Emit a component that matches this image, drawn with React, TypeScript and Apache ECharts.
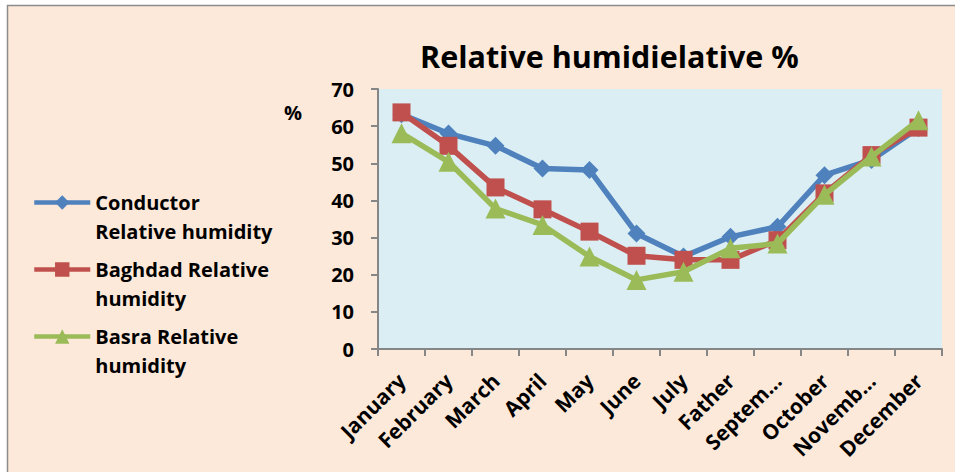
import React, { useEffect, useRef } from "react";
import * as echarts from "echarts";

const categories = ["January", "February", "March", "April", "May", "June", "July", "Father", "Septem...", "October", "Novemb...", "December"];
const conductor = [63.2, 58.0, 54.7, 48.6, 48.2, 31.1, 24.9, 30.2, 32.9, 46.8, 50.9, 59.5];
const baghdad = [63.7, 54.7, 43.5, 37.6, 31.6, 25.1, 24.0, 24.0, 29.3, 41.9, 52.2, 59.6];
const basra = [58.1, 50.4, 37.8, 33.4, 24.9, 18.6, 20.8, 27.1, 28.4, 41.5, 51.8, 61.6];
const seriesNames = ["Conductor Relative humidity", "Baghdad Relative humidity", "Basra Relative humidity"];
const legendLabels = ["Conductor\nRelative humidity", "Baghdad Relative\nhumidity", "Basra Relative\nhumidity"];
const yTicks = { min: 0, max: 70, interval: 10 };
const titleText = "Relative humidielative %";

const FONT = "'Open Sans', sans-serif";

export default function App() {
  const ref = useRef<HTMLDivElement>(null);
  useEffect(() => {
    if (!ref.current) return;
    const chart = echarts.init(ref.current, undefined, { renderer: "svg" });
    const colors = ["#4F81BD", "#C0504D", "#9BBB59"];
    const symbols = ["diamond", "rect", "triangle"];
    const sizes = [18, 18, 20];
    const data = [conductor, baghdad, basra];
    chart.setOption({
      animation: false,
      backgroundColor: "#ffffff",
      textStyle: { fontFamily: FONT },
      graphic: [
        {
          type: "rect",
          z: -100,
          silent: true,
          shape: { x: 7.5, y: 5.5, width: 1000, height: 600 },
          style: { fill: "#FDE9D9", stroke: "#8C8C8C", lineWidth: 1.5 },
        },
        {
          type: "text",
          x: 293,
          y: 112,
          style: { text: "%", fontFamily: FONT, fontSize: 20, fontWeight: "bold", fill: "#000", align: "center", verticalAlign: "middle" },
        },
      ],
      title: {
        text: titleText,
        left: 415,
        top: 35,
        textStyle: { fontFamily: FONT, fontSize: 30.5, fontWeight: "bold", color: "#000" },
      },
      legend: {
        orient: "vertical",
        left: 27,
        top: 154,
        itemGap: -20,
        itemWidth: 56,
        itemHeight: 18,
        lineStyle: { width: 4.5 },
        data: seriesNames.map((n, i) => ({ name: n, lineStyle: { width: 4.5, color: colors[i] } })),
        formatter: (n: string) => "\n" + legendLabels[seriesNames.indexOf(n)],
        textStyle: { fontFamily: FONT, fontSize: 20, fontWeight: "bold", color: "#000", lineHeight: 29 },
      },
      grid: {
        left: 378,
        top: 89,
        right: 13,
        bottom: 123,
        show: true,
        backgroundColor: "#DBEEF4",
        borderWidth: 0,
      },
      xAxis: {
        type: "category",
        data: categories,
        boundaryGap: true,
        axisLine: { lineStyle: { color: "#868686", width: 2 } },
        axisTick: { show: true, length: 7, lineStyle: { color: "#868686", width: 2 } },
        axisLabel: { interval: 0, rotate: 45, margin: 28, fontFamily: FONT, fontSize: 21, fontWeight: "bold", color: "#000" },
        splitLine: { show: false },
      },
      yAxis: {
        type: "value",
        min: yTicks.min,
        max: yTicks.max,
        interval: yTicks.interval,
        axisLine: { show: true, lineStyle: { color: "#868686", width: 2 } },
        axisTick: { show: true, length: 7, lineStyle: { color: "#868686", width: 2 } },
        axisLabel: { margin: 24, fontFamily: FONT, fontSize: 20, fontWeight: "bold", color: "#000" },
        splitLine: { show: false },
      },
      series: data.map((d, i) => ({
        name: seriesNames[i],
        type: "line",
        data: d,
        symbol: symbols[i],
        symbolSize: sizes[i],
        lineStyle: { color: colors[i], width: 5.5 },
        itemStyle: { color: colors[i] },
        z: 2 + i,
      })),
    });
    return () => chart.dispose();
  }, []);
  return (
    <div style={{ position: "absolute", left: 0, top: 0, width: 955, height: 472, background: "#fff" }}>
      <div ref={ref} style={{ width: 955, height: 472 }} />
    </div>
  );
}
